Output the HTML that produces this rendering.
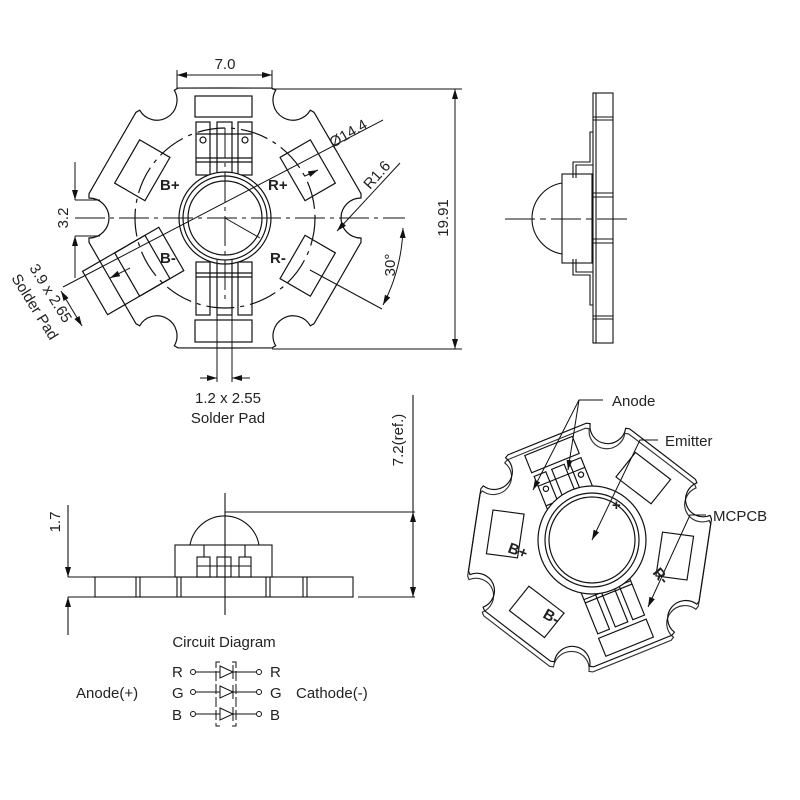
<!DOCTYPE html>
<html><head><meta charset="utf-8"><style>
html,body{margin:0;padding:0;background:#fff}
svg{display:block}
text{font-family:"Liberation Sans",sans-serif;fill:#222;font-size:15px}
</style></head><body>
<svg width="800" height="800" viewBox="0 0 800 800" xmlns="http://www.w3.org/2000/svg">
<defs>
<marker id="ar" viewBox="0 0 10 6" refX="10" refY="3" markerWidth="10" markerHeight="6" orient="auto-start-reverse" markerUnits="userSpaceOnUse"><path d="M0,0 L10,3 L0,6 Z" fill="#111"/></marker>
<g id="sec"><path d="M112.6,65 L136,24.3 L136,20 A20,20 0 0 1 136,-20 L136,-24.3 L112.6,-65" fill="none"/></g>
<g id="star">
<use href="#sec"/><use href="#sec" transform="rotate(60)"/><use href="#sec" transform="rotate(120)"/>
<use href="#sec" transform="rotate(180)"/><use href="#sec" transform="rotate(240)"/><use href="#sec" transform="rotate(300)"/>
</g>
<g id="leads">
<rect x="-30" y="-122" width="57" height="21"/>
<rect x="-29" y="-96" width="14" height="53"/><rect x="-8" y="-96" width="15" height="53"/><rect x="13" y="-96" width="14" height="53"/>
<line x1="-29" y1="-84" x2="27" y2="-84"/><line x1="-29" y1="-60" x2="27" y2="-60"/><line x1="-29" y1="-56" x2="27" y2="-56"/>
<circle cx="-22" cy="-78" r="3"/><circle cx="20" cy="-78" r="3"/>
<rect x="-30" y="102" width="57" height="22"/>
<rect x="-29" y="44" width="14" height="53"/><rect x="-8" y="44" width="15" height="53"/><rect x="13" y="44" width="14" height="53"/>
<line x1="-29" y1="55" x2="27" y2="55"/><line x1="-29" y1="59" x2="27" y2="59"/>
</g>
<g id="pads">
<g transform="rotate(-30)"><rect x="78" y="-25" width="35" height="50"/></g>
<g transform="rotate(30)"><rect x="78" y="-25" width="35" height="50"/></g>
<g transform="rotate(150)"><rect x="78" y="-25" width="35" height="50"/></g>
<g transform="rotate(-150)"><rect x="78" y="-25" width="35" height="50"/></g>
</g>
</defs>

<!-- TOP VIEW -->
<g transform="translate(225,218)" stroke="#111" stroke-width="1.2" fill="none">
<use href="#star"/>
<circle r="90" stroke-dasharray="28,6,4,6"/>
<use href="#pads"/>
<g transform="rotate(150)"><rect x="62" y="-25" width="88" height="50"/></g>
<use href="#leads"/>
<circle r="46" fill="#fff"/><circle r="42"/><circle r="37"/>
</g>
<g stroke="#111" stroke-width="1" fill="none">
<line x1="75" y1="218" x2="405" y2="218" stroke-dasharray="30,5,4,5"/>
<line x1="225" y1="128" x2="225" y2="300" stroke-dasharray="30,5,4,5"/>
<line x1="217" y1="260" x2="217" y2="382"/><line x1="232" y1="260" x2="232" y2="382"/>
<line x1="200" y1="378" x2="217" y2="378" marker-end="url(#ar)"/><line x1="250" y1="378" x2="232" y2="378" marker-end="url(#ar)"/>
<line x1="63" y1="287" x2="383" y2="120"/>
<line x1="305" y1="176" x2="318" y2="170" marker-end="url(#ar)"/>
<line x1="110" y1="278" x2="130" y2="268" marker-start="url(#ar)"/>
<line x1="225" y1="218" x2="260" y2="238"/>
<line x1="400" y1="163" x2="337" y2="231" marker-end="url(#ar)"/>
<line x1="310" y1="270" x2="382" y2="309"/>
<path d="M403,228 A178,178 0 0 1 383,305" marker-start="url(#ar)" marker-end="url(#ar)"/>
<line x1="177" y1="89" x2="177" y2="70"/><line x1="272" y1="89" x2="272" y2="70"/>
<line x1="177" y1="75" x2="272" y2="75" marker-start="url(#ar)" marker-end="url(#ar)"/>
<line x1="272" y1="89" x2="462" y2="89"/><line x1="272" y1="349" x2="462" y2="349"/>
<line x1="455" y1="89" x2="455" y2="349" marker-start="url(#ar)" marker-end="url(#ar)"/>
<line x1="75" y1="200" x2="100" y2="200"/><line x1="75" y1="236" x2="100" y2="236"/>
<line x1="75" y1="162" x2="75" y2="200" marker-end="url(#ar)"/><line x1="75" y1="278" x2="75" y2="236" marker-end="url(#ar)"/>
<line x1="61" y1="291" x2="82" y2="326" marker-start="url(#ar)" marker-end="url(#ar)"/>
</g>
<text x="225" y="69" text-anchor="middle">7.0</text>
<text transform="translate(448,218) rotate(-90)" text-anchor="middle">19.91</text>
<text transform="translate(68,218) rotate(-90)" text-anchor="middle">3.2</text>
<text transform="translate(395,265) rotate(-90)" text-anchor="middle">30°</text>
<text transform="translate(333,148) rotate(-30)">Ø14.4</text>
<text transform="translate(370,190) rotate(-48)">R1.6</text>
<text font-size="13" x="160" y="190" font-weight="bold">B+</text>
<text font-size="13" x="268" y="190" font-weight="bold">R+</text>
<text font-size="13" x="160" y="263" font-weight="bold">B-</text>
<text font-size="13" x="270" y="263" font-weight="bold">R-</text>
<text transform="translate(29,268) rotate(58)">3.9 x 2.65</text>
<text transform="translate(11,278) rotate(58)">Solder Pad</text>
<text x="228" y="403" text-anchor="middle">1.2 x 2.55</text>
<text x="228" y="423" text-anchor="middle">Solder Pad</text>

<!-- SIDE VIEW RIGHT -->
<g stroke="#111" stroke-width="1.1" fill="none">
<rect x="593" y="93" width="20" height="250"/>
<line x1="596" y1="93" x2="596" y2="343"/>
<line x1="593" y1="117" x2="613" y2="117"/><line x1="593" y1="120" x2="613" y2="120"/>
<line x1="593" y1="193" x2="613" y2="193"/><line x1="593" y1="197" x2="613" y2="197"/>
<line x1="593" y1="239" x2="613" y2="239"/><line x1="593" y1="243" x2="613" y2="243"/>
<line x1="593" y1="316" x2="613" y2="316"/><line x1="593" y1="319" x2="613" y2="319"/>
<rect x="562" y="174" width="30" height="89" fill="#fff"/>
<path d="M562,183 A36,36 0 0 0 562,254"/>
<path d="M573,178 L573,162 L590,162 L590,132 L593,132 M576,178 L576,165 L593,165"/>
<path d="M573,259 L573,275 L590,275 L590,305 L593,305 M576,259 L576,272 L593,272"/>
<line x1="505" y1="219" x2="630" y2="219" stroke-dasharray="30,5,6,5"/>
</g>

<!-- BOTTOM SIDE VIEW -->
<g stroke="#111" stroke-width="1.1" fill="none">
<rect x="95" y="577" width="258" height="20"/>
<line x1="92" y1="577" x2="95" y2="577"/>
<line x1="136" y1="577" x2="136" y2="597"/><line x1="140" y1="577" x2="140" y2="597"/>
<line x1="177" y1="577" x2="177" y2="597"/><line x1="181" y1="577" x2="181" y2="597"/>
<line x1="266" y1="577" x2="266" y2="597"/><line x1="270" y1="577" x2="270" y2="597"/>
<line x1="303" y1="577" x2="303" y2="597"/><line x1="307" y1="577" x2="307" y2="597"/>
<rect x="175" y="545" width="97" height="32" fill="#fff"/>
<path d="M190,545 A35,35 0 0 1 259,545"/>
<line x1="204" y1="545" x2="204" y2="557"/><line x1="245" y1="545" x2="245" y2="557"/>
<rect x="197" y="557" width="13" height="20"/><rect x="217" y="557" width="14" height="20"/><rect x="239" y="557" width="12" height="20"/>
<line x1="197" y1="566" x2="251" y2="566"/>
<line x1="225" y1="493" x2="225" y2="615"/>
<line x1="225" y1="512" x2="415" y2="512"/><line x1="358" y1="597" x2="415" y2="597"/>
<line x1="413" y1="395" x2="413" y2="512"/>
<line x1="413" y1="554" x2="413" y2="512" marker-end="url(#ar)"/><line x1="413" y1="554" x2="413" y2="597" marker-end="url(#ar)"/>
<line x1="68" y1="577" x2="95" y2="577"/><line x1="68" y1="597" x2="95" y2="597"/>
<line x1="68" y1="505" x2="68" y2="577" marker-end="url(#ar)"/><line x1="68" y1="635" x2="68" y2="597" marker-end="url(#ar)"/>
</g>
<text transform="translate(403,440) rotate(-90)" text-anchor="middle" font-size="14">7.2(ref.)</text>
<text transform="translate(60,522) rotate(-90)" text-anchor="middle">1.7</text>

<!-- CIRCUIT -->
<text x="224" y="647" text-anchor="middle" font-size="13">Circuit Diagram</text>
<g stroke="#111" stroke-width="1" fill="none">
<circle cx="193" cy="672" r="2.5"/><circle cx="193" cy="692" r="2.5"/><circle cx="193" cy="714" r="2.5"/>
<circle cx="259" cy="672" r="2.5"/><circle cx="259" cy="692" r="2.5"/><circle cx="259" cy="714" r="2.5"/>
<line x1="196" y1="672" x2="256" y2="672"/><line x1="196" y1="692" x2="256" y2="692"/><line x1="196" y1="714" x2="256" y2="714"/>
<path d="M220,666 L233,672 L220,678 Z" fill="#fff"/><line x1="233" y1="665" x2="233" y2="679"/>
<path d="M220,686 L233,692 L220,698 Z" fill="#fff"/><line x1="233" y1="685" x2="233" y2="699"/>
<path d="M220,708 L233,714 L220,720 Z" fill="#fff"/><line x1="233" y1="707" x2="233" y2="721"/>
<path d="M220,662 L216,662 L216,726 L220,726 M232,662 L236,662 L236,726 L232,726" stroke-dasharray="10,3"/>
</g>
<text x="172" y="677" font-size="15">R</text><text x="172" y="698">G</text><text x="172" y="720">B</text>
<text x="270" y="677">R</text><text x="270" y="698">G</text><text x="270" y="720">B</text>
<text x="76" y="698">Anode(+)</text><text x="296" y="698">Cathode(-)</text>

<!-- PERSPECTIVE VIEW -->
<g transform="translate(590,545) rotate(-22) scale(0.9,0.88)" stroke-width="1.3" fill="none">
<g transform="translate(-3,5)" stroke="#333"><use href="#star"/></g>
<g stroke="#111"><use href="#star"/>
<use href="#pads"/><use href="#leads"/></g>
</g>
<g stroke="#111" stroke-width="1.2" fill="#fff">
<circle cx="592" cy="540" r="54"/><circle cx="592" cy="540" r="47" fill="none"/><circle cx="592" cy="540" r="43" fill="none"/>
</g>
<g stroke="#111" stroke-width="1" fill="none">
<path d="M603,400 L579,400 L533,490" marker-end="url(#ar)"/>
<path d="M579,400 L568,470" marker-end="url(#ar)"/>
<path d="M658,440 L640,440 L592,540" marker-end="url(#ar)"/>
<path d="M706,515 L690,515 L648,607" marker-end="url(#ar)"/>
</g>
<text x="612" y="406">Anode</text>
<text x="665" y="446">Emitter</text>
<text x="713" y="521">MCPCB</text>
<text x="612" y="510" font-size="13" font-weight="bold">+</text>
<text transform="translate(507,552) rotate(20)" font-size="13" font-weight="bold">B+</text>
<text transform="translate(652,573) rotate(50)" font-size="13" font-weight="bold">R-</text>
<text transform="translate(542,617) rotate(30)" font-size="13" font-weight="bold">B-</text>
</svg>
</body></html>
